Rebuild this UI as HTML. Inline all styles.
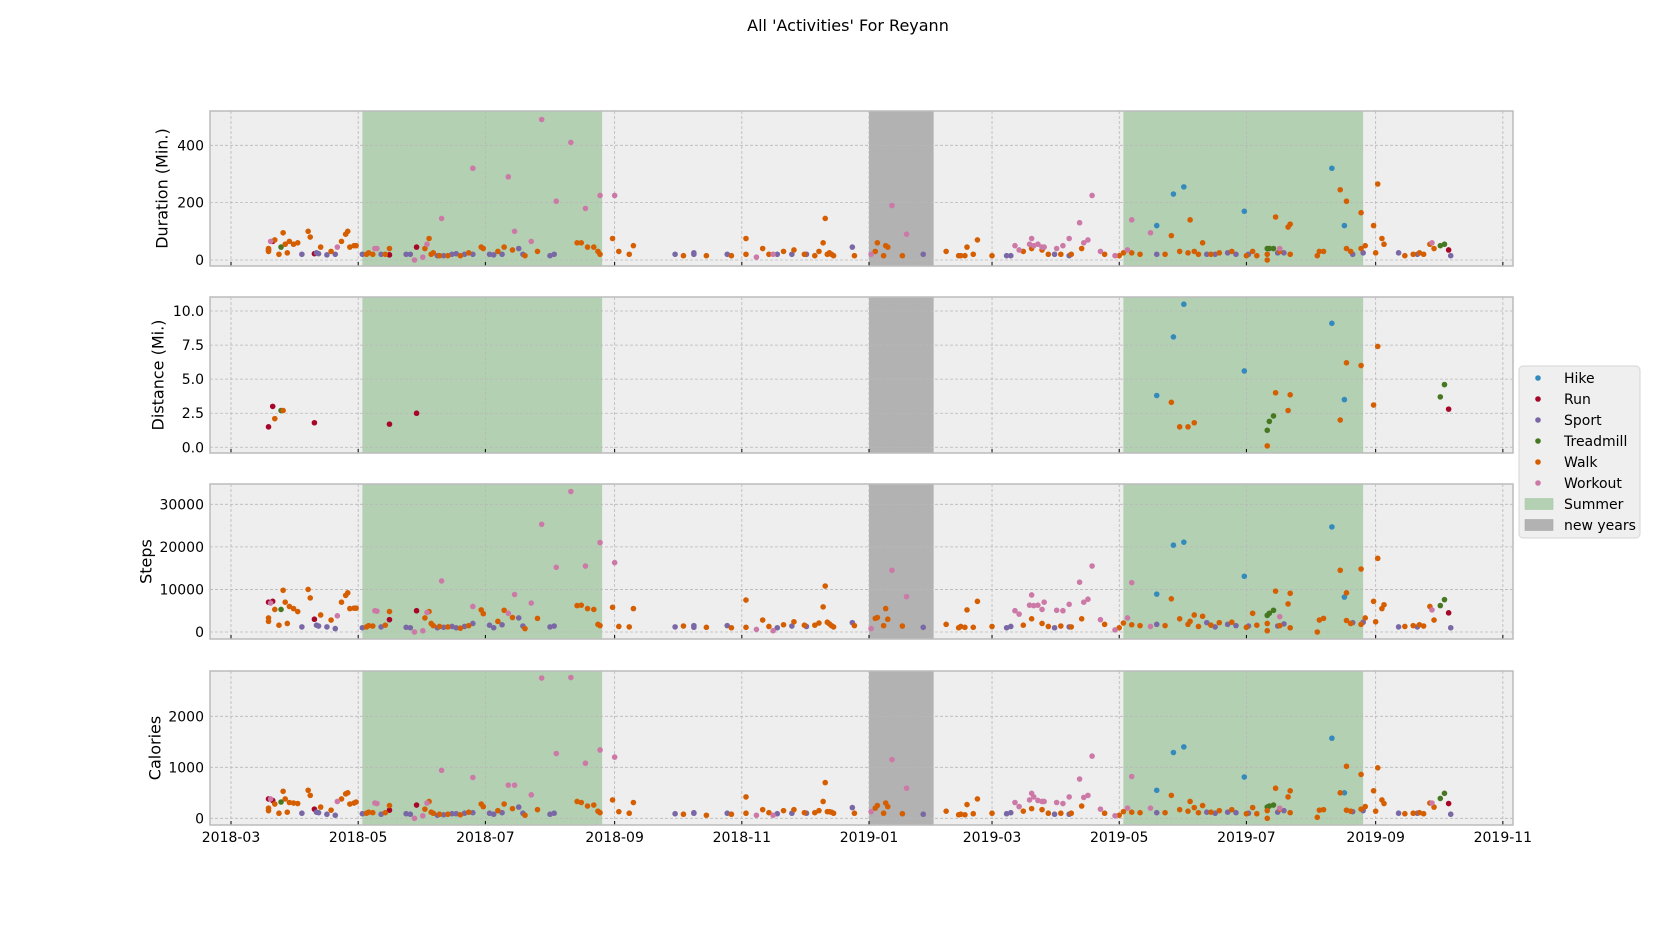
<!DOCTYPE html>
<html><head><meta charset="utf-8">
<style>
html,body{margin:0;padding:0;background:#fff;}
svg{display:block;font-family:"DejaVu Sans","Liberation Sans",sans-serif;}
</style></head>
<body>
<svg id="chart" width="1680" height="927" viewBox="0 0 1680 927" xmlns="http://www.w3.org/2000/svg">
<text x="848" y="31" font-size="16" text-anchor="middle" fill="#000">All 'Activities' For Reyann</text>
<g id="panels"></g>
<g id="legend"></g>
</svg>
<script>
// rows: [dayFrom2018-03-01, duration, distance, steps, calories]
const hikeRows=[[444,120,3.8,8900,550],[452,230,8.1,20400,1290],[457,255,10.5,21100,1400],[486,170,5.6,13100,810],[528,320,9.1,24700,1570],[534,120,3.5,8200,500]];
const runRows=[[18,35,1.5,7000,380],[20,65,3.0,7200,350],[40,22,1.8,3000,180],[76,18,1.7,2900,160],[89,45,2.5,5000,260],[584,35,2.8,4500,290]];
const sportRows=[[34,20,null,1200,100],[41,25,null,1600,120],[42,22,null,1400,110],[46,18,null,1200,80],[50,20,null,800,60],[63,20,null,1000,90],[72,20,null,1200,80],[84,20,null,1100,90],[86,20,null,1000,80],[99,15,null,1000,60],[102,15,null,1100,70],[106,20,null,1300,90],[108,22,null,1000,90],[112,20,null,1300,100],[116,20,null,2000,110],[124,20,null,1600,100],[126,18,null,1000,80],[130,20,null,1700,110],[138,40,null,3300,220],[140,20,null,1400,100],[153,15,null,1200,80],[155,20,null,1400,100],
[213,20,null,1200,90],[222,25,null,1100,110],[222,20,null,1500,100],[238,20,null,1500,100],[262,20,null,1000,90],[269,20,null,1400,100],[276,20,null,1300,100],[298,45,null,2200,210],[332,20,null,1100,80],
[372,15,null,1000,90],[374,15,null,1300,110],[395,20,null,1000,80],[402,15,null,1200,80],[444,20,null,1800,110],[468,20,null,2200,120],[472,20,null,1200,100],[478,25,null,1800,120],[482,20,null,1500,110],[488,20,null,1400,100],[502,25,null,1400,120],[505,25,null,1900,150],[538,20,null,2200,130],[543,25,null,2300,150],[560,25,null,1200,100],[569,20,null,1200,100],[585,15,null,1000,80]];
const treadmillRows=[[24,45,2.7,5300,320],[497,40,1.25,3900,220],[498,40,1.9,4400,240],[500,40,2.3,5100,260],[580,50,3.7,6200,390],[582,55,4.6,7600,490]];
const walkRows=[[18,30,null,2500,150],[18,40,null,3300,200],[21,70,2.1,5300,280],[23,20,null,1600,100],[25,95,2.7,9800,530],[26,55,null,7000,380],[27,25,null,2000,120],[28,65,null,6000,310],[30,55,null,5500,300],[32,60,null,4800,290],[37,100,null,10000,550],[38,80,null,8000,450],[43,45,null,4000,220],[48,30,null,2800,160],[53,65,null,7000,380],[55,90,null,8600,480],[56,100,null,9200,500],[57,45,null,5500,280],[59,50,null,5600,300],[60,50,null,5600,320],
[65,20,null,1200,100],[66,25,null,1500,120],[68,20,null,1400,110],[74,20,null,1600,110],[76,40,null,4800,250],[93,40,null,3300,180],[95,75,null,4800,330],[96,20,null,2000,120],[97,25,null,1500,100],[100,15,null,1300,80],[104,15,null,1200,80],[110,15,null,900,70],[114,25,null,1500,120],[120,45,null,5200,280],[121,40,null,4300,230],[128,30,null,2500,150],[131,45,null,5100,280],[135,35,null,3400,190],[141,15,null,800,60],[147,30,null,3200,170],[166,60,null,6200,330],[168,60,null,6300,310],[171,45,null,5500,240],[174,45,null,5300,260],[176,30,null,1800,140],[177,20,null,1500,110],
[183,75,null,5800,360],[186,30,null,1300,130],[191,20,null,1200,100],[193,50,null,5500,310],
[217,15,null,1400,80],[228,15,null,1100,60],[240,15,null,1000,80],[247,75,null,7500,420],[247,20,null,1100,100],[255,40,null,2800,170],[258,20,null,1300,110],[265,30,null,1700,150],[270,35,null,2400,170],[275,20,null,1600,110],[280,15,null,1600,110],[282,30,null,2100,150],[284,60,null,5900,330],[285,145,null,10800,700],[286,20,null,2300,130],[287,25,null,1900,130],[288,20,null,1500,120],[289,15,null,1200,100],[299,15,null,1500,100],
[309,30,null,3200,200],[310,60,null,3400,250],[313,15,null,1500,100],[314,50,null,5500,300],[315,45,null,3000,230],[322,15,null,1400,90],
[343,30,null,1800,140],[349,15,null,1000,70],[350,15,null,1300,80],[352,15,null,1100,70],[353,45,null,5200,270],[356,20,null,1100,90],[358,70,null,7200,380],[365,15,null,1300,100],[380,30,null,1600,140],[384,40,null,3100,190],[389,35,null,2000,170],[392,20,null,1300,100],[398,20,null,1400,100],[403,20,null,1200,100],[408,40,null,3100,240],[419,20,null,1800,100],
[426,15,null,1000,60],[428,25,null,2100,130],[432,25,null,1700,120],[436,20,null,1500,110],[448,20,null,1500,110],[451,85,3.3,7800,450],[455,30,1.5,3100,170],[459,25,1.5,1800,140],[462,30,1.8,4000,210],[460,140,null,2500,330],[464,20,null,1300,110],[466,60,null,3700,250],[470,20,null,1600,120],[474,25,null,2200,150],[480,30,null,2300,170],[487,15,null,1100,90],[490,30,null,4400,210],[492,15,null,1600,90],[497,0,0.1,300,0],[497,20,null,2000,150],[501,150,4.0,9600,590],[503,30,null,1500,180],[507,115,2.7,6600,420],[508,125,3.85,9100,540],[508,20,null,1000,110],[521,15,null,0,20],[522,30,null,2800,160],[524,30,null,3200,170],[532,245,2.0,14500,500],[535,205,6.2,9200,1020],[535,40,null,2700,160],[537,30,null,2000,140],[542,165,6.0,14800,860],[542,40,null,1800,180],[544,50,null,3300,230],[548,120,3.1,7200,540],[550,265,7.4,17300,990],[549,25,null,2400,140],[552,75,null,5500,360],[553,55,null,6400,290],
[563,15,null,1300,90],[567,20,null,1500,100],[570,25,null,1700,110],[572,20,null,1400,90],[575,55,null,6000,300],[577,40,null,2800,220]];
const workoutRows=[[19,65,null,6800,380],[51,45,null,3800,330],[69,40,null,5000,300],[70,40,null,4900,290],[88,0,null,0,0],[92,10,null,300,50],[94,55,null,4600,300],[101,145,null,12000,940],[116,320,null,6000,800],[133,290,null,4400,650],[136,100,null,8800,650],[144,65,null,6800,460],[149,490,null,25300,2750],[156,205,null,15200,1270],[163,410,null,33000,2760],[170,180,null,15500,1080],[177,225,null,21000,1340],[184,225,null,16300,1200],
[252,10,null,600,60],[260,20,null,300,60],[307,20,null,800,130],[317,190,null,14500,1150],[324,90,null,8300,590],
[376,50,null,5000,310],[378,35,null,4200,230],[383,55,null,6300,360],[384,75,null,8700,490],[385,50,null,6200,420],[387,55,null,6300,350],[389,45,null,5300,330],[390,45,null,7000,330],[396,40,null,5100,310],[399,50,null,5000,290],[402,75,null,6500,420],[407,130,null,11700,770],[409,60,null,7000,410],[411,70,null,7700,450],[413,225,null,15500,1220],[417,30,null,2900,180],[424,15,null,500,50],[430,35,null,3300,200],[432,140,null,11600,820],[441,95,null,1300,200],[503,40,null,3600,200],[576,60,null,5200,300]];
const seriesNames=["Hike","Run","Sport","Treadmill","Walk","Workout"];
const xTickLabels=["2018-03","2018-05","2018-07","2018-09","2018-11","2019-01","2019-03","2019-05","2019-07","2019-09","2019-11"];
const durationTicks=[0,200,400];
const distanceTicks=[0,2.5,5,7.5,10];
const stepsTicks=[0,10000,20000,30000];
const caloriesTicks=[0,1000,2000];
const summerSpans=[["2018-05-03","2018-08-26"],["2019-05-03","2019-08-26"]];
const newYearsSpans=[["2019-01-01","2019-02-01"]];

const colors={Hike:"#348ABD",Run:"#A60628",Sport:"#7A68A6",Treadmill:"#467821",Walk:"#D55E00",Workout:"#CC79A7"};
const rowsByName={Hike:hikeRows,Run:runRows,Sport:sportRows,Treadmill:treadmillRows,Walk:walkRows,Workout:workoutRows};
const NS="http://www.w3.org/2000/svg";
const X0=210,X1=1513;
const base=Date.UTC(2018,2,1);
function dayOf(s){const p=s.split("-").map(Number);return (Date.UTC(p[0],p[1]-1,p[2]||1)-base)/864e5;}
function xScale(d){return 231+d*2.085;}
function mk(tag,attrs,parent){const e=document.createElementNS(NS,tag);for(const k in attrs)e.setAttribute(k,attrs[k]);parent.appendChild(e);return e;}
const panels=[
 {name:"duration",label:"Duration (Min.)",col:1,top:111,bottom:266,min:-20.9,max:519.6,ticks:durationTicks,fmt:v=>String(v),lx:163},
 {name:"distance",label:"Distance (Mi.)",col:2,top:297,bottom:453,min:-0.42,max:11.03,ticks:distanceTicks,fmt:v=>v.toFixed(1),lx:159},
 {name:"steps",label:"Steps",col:3,top:484,bottom:639,min:-1645,max:34770,ticks:stepsTicks,fmt:v=>String(v),lx:147},
 {name:"calories",label:"Calories",col:4,top:671,bottom:825,min:-131,max:2888,ticks:caloriesTicks,fmt:v=>String(v),lx:156}
];
const root=document.getElementById("panels");
panels.forEach((p,pi)=>{
 const g=mk("g",{},root);
 
 
 const y=v=>p.bottom-(v-p.min)/(p.max-p.min)*(p.bottom-p.top);
 const bg=mk("rect",{x:X0,y:p.top,width:X1-X0,height:p.bottom-p.top,fill:"#EEEEEE"},g);
 
 
 summerSpans.forEach(s=>{const r=mk("rect",{x:xScale(dayOf(s[0])),y:p.top,width:xScale(dayOf(s[1]))-xScale(dayOf(s[0])),height:p.bottom-p.top,fill:"#b3d1b2"},g);
  
  });
 newYearsSpans.forEach(s=>{const r=mk("rect",{x:xScale(dayOf(s[0])),y:p.top,width:xScale(dayOf(s[1]))-xScale(dayOf(s[0])),height:p.bottom-p.top,fill:"#b2b2b2"},g);
  
  });
 xTickLabels.forEach(t=>{const xx=xScale(dayOf(t));
  const l=mk("line",{x1:xx,x2:xx,y1:p.top,y2:p.bottom,stroke:"#b8b8b8","stroke-width":0.8,"stroke-dasharray":"3,2"},g);
  
  
  const tk=mk("line",{x1:xx,x2:xx,y1:p.bottom-4,y2:p.bottom,stroke:"#000","stroke-width":1},g);
  
  
  if(pi===3){const tx=mk("text",{x:xx,y:p.bottom+17,"font-size":14,"text-anchor":"middle",fill:"#000"},g);tx.textContent=t;
   
   }
 });
 p.ticks.forEach(t=>{const yy=y(t);
  const l=mk("line",{x1:X0,x2:X1,y1:yy,y2:yy,stroke:"#b8b8b8","stroke-width":0.8,"stroke-dasharray":"3,2"},g);
  
  
  const tx=mk("text",{x:204,y:yy+5,"font-size":14,"text-anchor":"end",fill:"#000"},g);tx.textContent=p.fmt(t);
  
  
 });
 const border=mk("rect",{x:X0,y:p.top,width:X1-X0,height:p.bottom-p.top,fill:"none",stroke:"#bcbcbc","stroke-width":1.5},g);
 
 
 const lab=mk("text",{x:p.lx,y:(p.top+p.bottom)/2,"font-size":16,"text-anchor":"middle",fill:"#000",transform:`rotate(-90 ${p.lx} ${(p.top+p.bottom)/2})`,"dominant-baseline":"middle"},g);
 lab.textContent=p.label;
 
 
 seriesNames.forEach(n=>{rowsByName[n].forEach(r=>{const v=r[p.col];if(v===null||v===undefined)return;
  const c=mk("circle",{cx:xScale(r[0]),cy:y(v),r:2.8,fill:colors[n]},g);
  
  });});
});
const lg=document.getElementById("legend");
const box=mk("rect",{x:1519,y:366,width:121,height:172,rx:4,fill:"#efefef",stroke:"#d6d6d6","stroke-width":1},lg);


const entries=seriesNames.concat(["Summer","new years"]);
entries.forEach((n,i)=>{const yy=378+i*21;
 const eg=mk("g",{},lg);
 
 
 if(i<6){mk("circle",{cx:1538,cy:yy,r:2.8,fill:colors[n]},eg);}
 else{mk("rect",{x:1525,y:yy-5.5,width:28,height:11,fill:i===6?"#b3d1b2":"#b2b2b2",stroke:i===6?"#a8c8a8":"#a8a8a8","stroke-width":0.6},eg);}
 const t=mk("text",{x:1564,y:yy+5,"font-size":14,fill:"#000"},eg);t.textContent=n;
});
</script>
</body></html>
